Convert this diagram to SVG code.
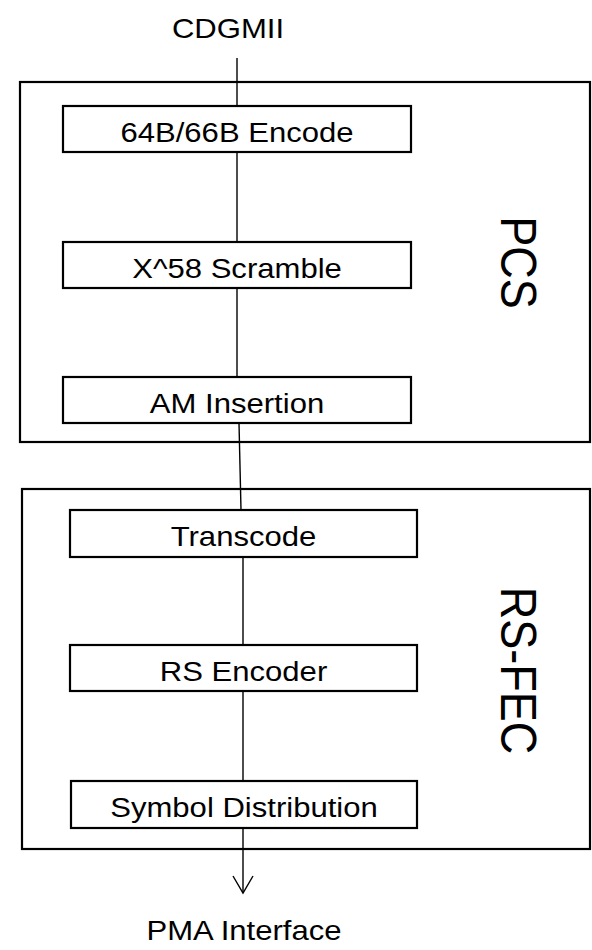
<svg xmlns="http://www.w3.org/2000/svg" width="592" height="950" viewBox="0 0 592 950">
<style>
.outer{fill:none;stroke:#000;stroke-width:2.2}
.box{fill:#fff;stroke:#000;stroke-width:2.2}
.lbl{font-family:"Liberation Sans",Arial,sans-serif;font-size:27.5px;fill:#000;text-anchor:middle}
.side{font-family:"Liberation Sans",Arial,sans-serif;font-size:45px;fill:#000;text-anchor:middle}
.wire{stroke:#000;stroke-width:1.4;fill:none}
</style>
<defs>
<marker id="arr" markerWidth="24" markerHeight="24" refX="12" refY="18" orient="0" markerUnits="userSpaceOnUse" viewBox="0 0 24 24">
<path d="M2,1 L12,18 L22,1" fill="none" stroke="#000" stroke-width="1.4"/>
</marker>
</defs>
<g id="pcs">
<rect class="outer" x="20" y="82" width="570" height="360"/>
<text class="side" transform="translate(501,262.5) rotate(90) scale(1,1.13)">PCS</text>
</g>
<g id="rsfec">
<rect class="outer" x="22" y="489" width="568" height="360"/>
<text class="side" transform="translate(501,670.5) rotate(90) scale(1,1.13)">RS-FEC</text>
</g>
<g id="connectors">
<line class="wire" x1="237" y1="58" x2="237" y2="106"/>
<line class="wire" x1="237" y1="152" x2="237" y2="242"/>
<line class="wire" x1="237" y1="288" x2="237" y2="377"/>
<line class="wire" x1="239" y1="423" x2="241" y2="510"/>
<line class="wire" x1="243" y1="557" x2="243" y2="645"/>
<line class="wire" x1="243" y1="691" x2="243" y2="781"/>
<line class="wire" x1="243" y1="828" x2="243" y2="893" marker-end="url(#arr)"/>
</g>
<g id="encode">
<rect class="box" x="63" y="106" width="348" height="46"/>
<text class="lbl" transform="translate(237,141.5) scale(1.13,1)">64B/66B Encode</text>
</g>
<g id="scramble">
<rect class="box" x="63" y="242" width="348" height="46"/>
<text class="lbl" transform="translate(237,277.5) scale(1.13,1)">X^58 Scramble</text>
</g>
<g id="am">
<rect class="box" x="63" y="377" width="348" height="46"/>
<text class="lbl" transform="translate(237,412.5) scale(1.13,1)">AM Insertion</text>
</g>
<g id="transcode">
<rect class="box" x="70" y="510" width="347" height="47"/>
<text class="lbl" transform="translate(243.5,546) scale(1.13,1)">Transcode</text>
</g>
<g id="rsenc">
<rect class="box" x="70" y="645" width="347" height="46"/>
<text class="lbl" transform="translate(243.5,680.5) scale(1.13,1)">RS Encoder</text>
</g>
<g id="symdist">
<rect class="box" x="71" y="781" width="346" height="47"/>
<text class="lbl" transform="translate(244,817) scale(1.13,1)">Symbol Distribution</text>
</g>
<g id="cdgmii">
<text class="lbl" transform="translate(228,38) scale(1.13,1)">CDGMII</text>
</g>
<g id="pma">
<text class="lbl" transform="translate(244,940) scale(1.13,1)">PMA Interface</text>
</g>
</svg>
